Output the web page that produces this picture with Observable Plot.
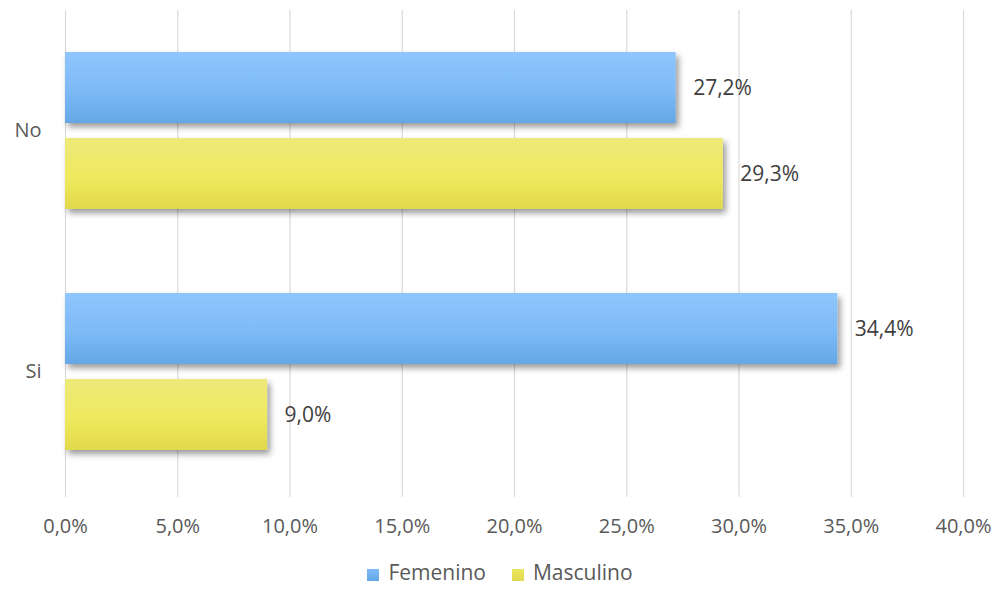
<!DOCTYPE html>
<html><head><meta charset="utf-8">
<script src="https://cdn.jsdelivr.net/npm/d3@7"></script>
<script src="https://cdn.jsdelivr.net/npm/@observablehq/plot@0.6"></script>
<style>
body{margin:0;background:#fff;font-family:"Open Sans",sans-serif;}
#legend{display:flex;justify-content:center;gap:26px;font-size:21px;color:#595959;margin-top:0px;padding-left:4px;line-height:24px}
#legend span.sw{display:inline-block;width:12px;height:12px;margin-right:9px;vertical-align:-1px}
</style></head><body>
<div id="chart"></div>
<div id="legend"></div>
<script>
const categories = ["No", "Si"];
const series = ["Femenino", "Masculino"];
const femenino = [27.2, 34.4];
const masculino = [29.3, 9.0];
const xTicks = [0, 5, 10, 15, 20, 25, 30, 35, 40];

const data = [];
categories.forEach((c, i) => {
  data.push({cat: c, g: series[0], v: femenino[i]});
  data.push({cat: c, g: series[1], v: masculino[i]});
});
const fmt = v => v.toFixed(1).replace(".", ",") + "%";
const grad = {Femenino: "url(#gF)", Masculino: "url(#gM)"};

const defs = () => {
  const d = d3.create("svg:defs");
  const gF = d.append("linearGradient").attr("id", "gF").attr("x1", 0).attr("y1", 0).attr("x2", 0).attr("y2", 1);
  gF.append("stop").attr("offset", "0%").attr("stop-color", "#8fc6fd");
  gF.append("stop").attr("offset", "55%").attr("stop-color", "#7dbaf7");
  gF.append("stop").attr("offset", "100%").attr("stop-color", "#64a6e6");
  const gM = d.append("linearGradient").attr("id", "gM").attr("x1", 0).attr("y1", 0).attr("x2", 0).attr("y2", 1);
  gM.append("stop").attr("offset", "0%").attr("stop-color", "#ede97a");
  gM.append("stop").attr("offset", "55%").attr("stop-color", "#efe95e");
  gM.append("stop").attr("offset", "100%").attr("stop-color", "#e1d94d");
  const f = d.append("filter").attr("id", "sh").attr("x", "-5%").attr("y", "-20%").attr("width", "115%").attr("height", "150%");
  f.append("feDropShadow").attr("dx", 3).attr("dy", 4).attr("stdDeviation", 3).attr("flood-color", "#000").attr("flood-opacity", 0.4);
  return d.node();
};

const chart = Plot.plot({
  width: 996,
  height: 560,
  marginLeft: 65,
  marginRight: 33,
  marginTop: 10,
  marginBottom: 68,
  style: {fontFamily: "'Open Sans', sans-serif", fontSize: "20px", color: "#595959"},
  x: {domain: [0, 40], ticks: xTicks, tickFormat: fmt, label: null, tickSize: 5, tickPadding: 21},
  y: {domain: series, axis: null, paddingInner: 0.174, paddingOuter: 0.488},
  fy: {domain: categories, padding: 0, label: null, tickSize: 0, tickPadding: 24},
  marks: [
    defs,
    Plot.gridX(xTicks, {stroke: "#d9d9d9", strokeOpacity: 1, strokeWidth: 1.2}),
    Plot.barX(data, {x: "v", y: "g", fy: "cat", fill: d => grad[d.g]}),
    Plot.text(data, {x: "v", y: "g", fy: "cat", text: d => fmt(d.v), dx: 17, textAnchor: "start", fill: "#404040", fontSize: 21})
  ]
});
d3.select(chart).selectAll("rect").attr("filter", "url(#sh)");
d3.select(chart).selectAll("[aria-label='x-axis tick'] path").attr("stroke", "#d9d9d9");
document.getElementById("chart").appendChild(chart);

const colors = {Femenino: "#7dbaf7", Masculino: "#ece760"};
const lg = document.getElementById("legend");
series.forEach(s => {
  const el = document.createElement("div");
  el.innerHTML = `<span class="sw" style="background:linear-gradient(${colors[s]}, ${s === "Femenino" ? "#64a6e6" : "#e1d94d"})"></span>${s}`;
  lg.appendChild(el);
});
</script>
</body></html>
